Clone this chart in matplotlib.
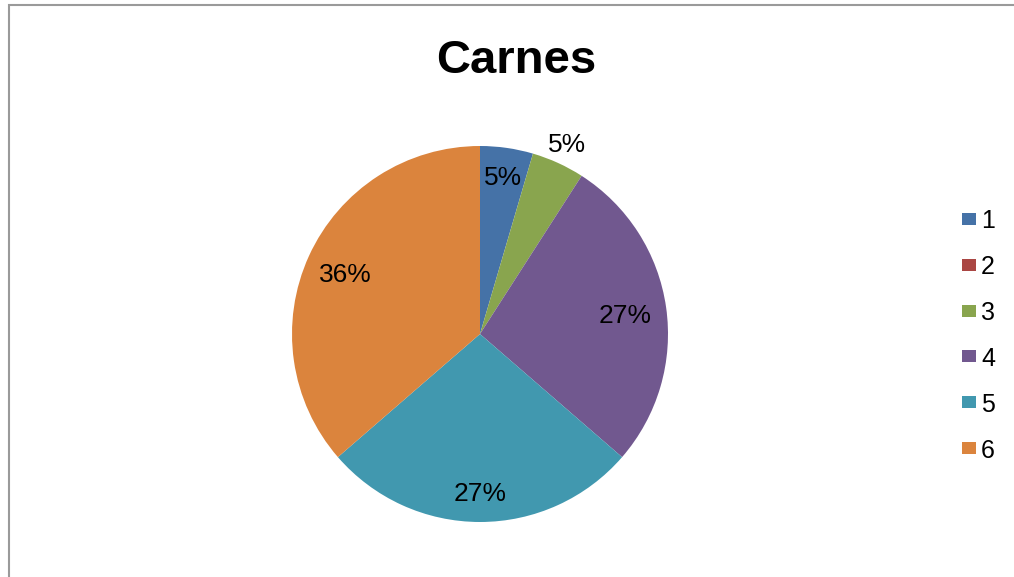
import numpy as np
import matplotlib.pyplot as plt
from matplotlib.patches import Rectangle

plt.rcParams['font.family'] = ['Liberation Sans', 'DejaVu Sans']

title = 'Carnes'
categories = ['1', '2', '3', '4', '5', '6']
counts = [1, 0, 1, 6, 6, 8]
colors = ['#4572A7', '#AA4643', '#89A54E', '#71588F', '#4198AF', '#DB843D']
# radial position of each percentage label, as a fraction of the radius
label_r = [0.85, 0.0, 1.12, 0.78, 0.84, 0.79]

W, H = 1014, 577
fig = plt.figure(figsize=(W / 100, H / 100), dpi=100)

# outer chart border (runs off the right and bottom edges)
fig.patches.append(Rectangle((9 / W, -0.1), 1.2, (H - 5) / H + 0.1,
                             transform=fig.transFigure, fill=False,
                             edgecolor='#9a9a9a', linewidth=1.5))

cx, cy, R = 480, H - 334, 188
ax = fig.add_axes([(cx - R) / W, (cy - R) / H, 2 * R / W, 2 * R / H])
wedges, _ = ax.pie(counts, colors=colors, startangle=90, counterclock=False,
                   radius=1.0, wedgeprops=dict(linewidth=0))
ax.set_xlim(-1, 1)
ax.set_ylim(-1, 1)
ax.set_aspect('equal')
ax.axis('off')

total = sum(counts)
for w, c, r in zip(wedges, counts, label_r):
    if c == 0:
        continue
    mid = np.deg2rad((w.theta1 + w.theta2) / 2)
    ax.text(r * np.cos(mid), r * np.sin(mid), f'{100 * c / total:.0f}%',
            ha='center', va='center_baseline', fontsize=19, color='black')

fig.text(516 / W, 1 - 56 / H, title, ha='center', va='center_baseline',
         fontsize=34, fontweight='bold')

# legend
for i, (lab, col) in enumerate(zip(categories, colors)):
    y = H - (219 + i * 45.8)
    fig.patches.append(Rectangle((962 / W, (y - 6) / H), 14 / W, 12 / H,
                                 transform=fig.transFigure, facecolor=col,
                                 edgecolor='none'))
    fig.text(981 / W, y / H, lab, ha='left', va='center_baseline', fontsize=18)

fig.savefig('out.png', dpi=100)
